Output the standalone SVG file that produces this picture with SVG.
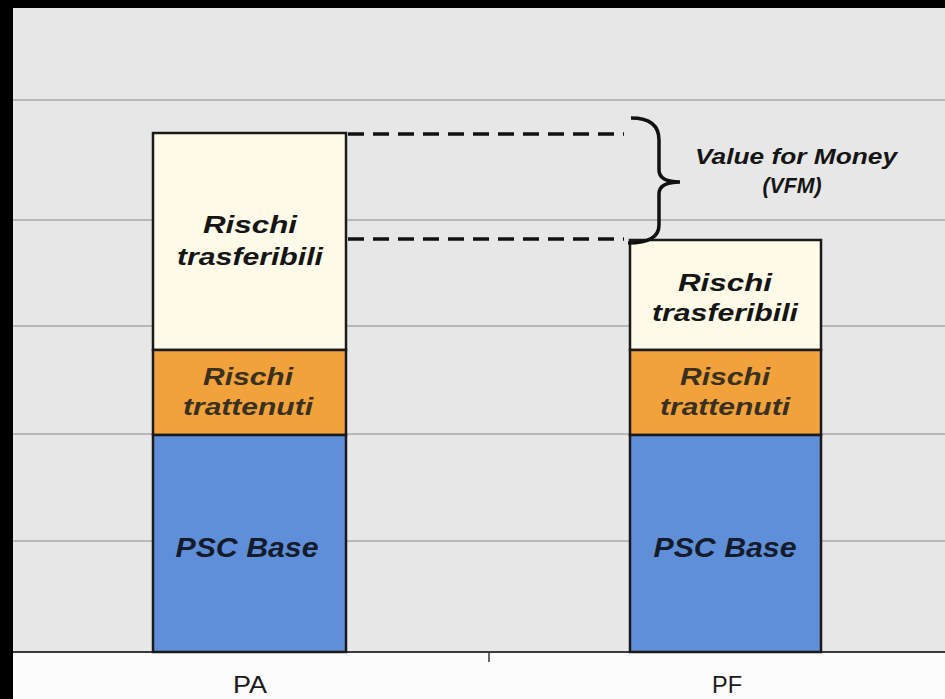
<svg xmlns="http://www.w3.org/2000/svg" width="945" height="699" viewBox="0 0 945 699">
<style>
.grid{stroke:#8a8a8a;stroke-width:1.2}
.bar{stroke:#1a1a1a;stroke-width:2.5}
.lbl{font-family:"Liberation Sans",Arial,sans-serif;font-weight:bold;font-style:italic;font-size:23px;text-anchor:middle;fill:#151515}
.lbl2{fill:#3a3020}
.lbl3{fill:#141c2c;font-size:27px}
.axis{font-family:"Liberation Sans",Arial,sans-serif;font-size:23px;text-anchor:middle;fill:#1a1a1a}
.dash{stroke:#111;stroke-width:3.5;stroke-dasharray:16 9;fill:none}
</style>
<rect x="0" y="0" width="945" height="699" fill="#fcfcfc"/>
<rect x="0" y="0" width="945" height="652" fill="#e7e7e7"/>
<rect x="0" y="0" width="945" height="8" fill="#000"/>
<rect x="0" y="0" width="13" height="699" fill="#000"/>
<g id="grid">
<line class="grid" x1="13" y1="100" x2="945" y2="100"/>
<line class="grid" x1="13" y1="220" x2="945" y2="220"/>
<line class="grid" x1="13" y1="326" x2="945" y2="326"/>
<line class="grid" x1="13" y1="434" x2="945" y2="434"/>
<line class="grid" x1="13" y1="541" x2="945" y2="541"/>
<line x1="13" y1="652" x2="945" y2="652" stroke="#3a3a3a" stroke-width="2"/>
<line x1="489" y1="652" x2="489" y2="662" stroke="#3a3a3a" stroke-width="1.5"/>
</g>
<g id="pa-trasferibili">
<rect class="bar" x="153" y="133" width="193" height="217" fill="#fffbe8"/>
<text class="lbl" x="250" y="233" textLength="94" lengthAdjust="spacingAndGlyphs">Rischi</text>
<text class="lbl" x="250" y="265" textLength="146" lengthAdjust="spacingAndGlyphs">trasferibili</text>
</g>
<g id="pa-trattenuti">
<rect class="bar" x="153" y="350" width="193" height="85" fill="#f2a23a"/>
<text class="lbl lbl2" x="248" y="385" textLength="90" lengthAdjust="spacingAndGlyphs">Rischi</text>
<text class="lbl lbl2" x="248" y="415" textLength="130" lengthAdjust="spacingAndGlyphs">trattenuti</text>
</g>
<g id="pa-psc">
<rect class="bar" x="153" y="435" width="193" height="217" fill="#5f8fd8"/>
<text class="lbl lbl3" x="247" y="557" textLength="143" lengthAdjust="spacingAndGlyphs">PSC Base</text>
</g>
<g id="pf-trasferibili">
<rect class="bar" x="630" y="240" width="191" height="110" fill="#fffbe8"/>
<text class="lbl" x="725" y="291" textLength="94" lengthAdjust="spacingAndGlyphs">Rischi</text>
<text class="lbl" x="725" y="321" textLength="146" lengthAdjust="spacingAndGlyphs">trasferibili</text>
</g>
<g id="pf-trattenuti">
<rect class="bar" x="630" y="350" width="191" height="85" fill="#f2a23a"/>
<text class="lbl lbl2" x="725" y="385" textLength="90" lengthAdjust="spacingAndGlyphs">Rischi</text>
<text class="lbl lbl2" x="725" y="415" textLength="130" lengthAdjust="spacingAndGlyphs">trattenuti</text>
</g>
<g id="pf-psc">
<rect class="bar" x="630" y="435" width="191" height="217" fill="#5f8fd8"/>
<text class="lbl lbl3" x="725" y="557" textLength="143" lengthAdjust="spacingAndGlyphs">PSC Base</text>
</g>
<g id="connectors">
<line class="dash" x1="348" y1="134" x2="624" y2="134"/>
<line class="dash" x1="348" y1="239" x2="624" y2="239"/>
<path d="M631 118 Q659 118 659 140 L659 170 Q659 182 680 182 Q659 182 659 194 L659 225 Q659 243 628 243" fill="none" stroke="#111" stroke-width="3.5"/>
</g>
<g id="vfm">
<text class="lbl" x="796" y="164" style="font-size:22px" textLength="202" lengthAdjust="spacingAndGlyphs">Value for Money</text>
<text class="lbl" x="792" y="193" style="font-size:22px" textLength="59" lengthAdjust="spacingAndGlyphs">(VFM)</text>
</g>
<text class="axis" x="250" y="693" textLength="34" lengthAdjust="spacingAndGlyphs">PA</text>
<text class="axis" x="727" y="693" textLength="30" lengthAdjust="spacingAndGlyphs">PF</text>
</svg>
